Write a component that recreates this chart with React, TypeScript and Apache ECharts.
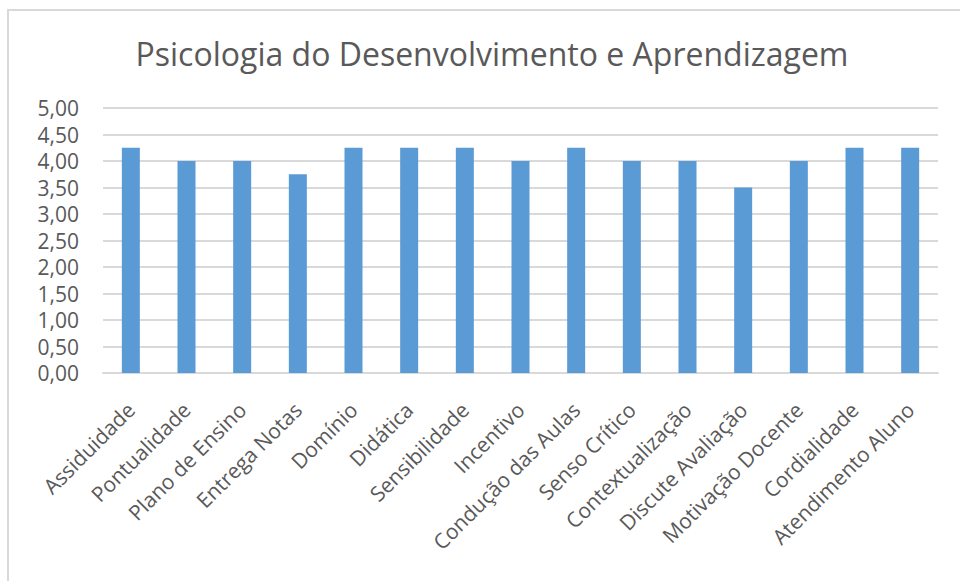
import React, { useEffect, useRef } from "react";
import * as echarts from "echarts";

const categories = [
  "Assiduidade",
  "Pontualidade",
  "Plano de Ensino",
  "Entrega Notas",
  "Domínio",
  "Didática",
  "Sensibilidade",
  "Incentivo",
  "Condução das Aulas",
  "Senso Crítico",
  "Contextualização",
  "Discute Avaliação",
  "Motivação Docente",
  "Cordialidade",
  "Atendimento Aluno",
];

const values = [4.25, 4.0, 4.0, 3.75, 4.25, 4.25, 4.25, 4.0, 4.25, 4.0, 4.0, 3.5, 4.0, 4.25, 4.25];

const chartTitle = "Psicologia do Desenvolvimento e Aprendizagem";

const FONT = "'Open Sans', 'Noto Sans', sans-serif";
const TEXT = "#595959";

export default function App() {
  const ref = useRef<HTMLDivElement>(null);
  useEffect(() => {
    if (!ref.current) return;
    const chart = echarts.init(ref.current, undefined, { renderer: "svg" });
    chart.setOption({
      animation: false,
      backgroundColor: "#ffffff",
      title: {
        text: chartTitle,
        left: 487,
        textAlign: "center",
        top: 32,
        textStyle: { fontFamily: FONT, fontSize: 32, fontWeight: "normal", color: TEXT },
      },
      graphic: [
        {
          type: "rect",
          shape: { x: 8, y: 10, width: 1000, height: 700 },
          style: { fill: "none", stroke: "#d9d9d9", lineWidth: 2 },
          silent: true,
        },
      ],
      grid: { left: 103, right: 22, top: 108, bottom: 208, containLabel: false },
      xAxis: {
        type: "category",
        data: categories,
        axisLine: { show: true, lineStyle: { color: "#d9d9d9", width: 2 } },
        axisTick: { show: false },
        axisLabel: {
          interval: 0,
          rotate: 45,
          margin: 33,
          verticalAlign: "middle",
          fontFamily: FONT,
          fontSize: 21,
          color: TEXT,
        },
      },
      yAxis: {
        type: "value",
        min: 0,
        max: 5,
        interval: 0.5,
        axisLine: { show: false },
        axisTick: { show: false },
        splitLine: { lineStyle: { color: "#d9d9d9", width: 2 } },
        axisLabel: {
          margin: 24,
          fontFamily: FONT,
          fontSize: 21,
          color: TEXT,
          formatter: (v: number) => v.toFixed(2).replace(".", ","),
        },
      },
      series: [
        {
          type: "bar",
          data: values,
          barWidth: 18,
          itemStyle: { color: "#5B9BD5" },
        },
      ],
    });
    return () => chart.dispose();
  }, []);
  return (
    <div
      ref={ref}
      style={{ position: "absolute", left: 0, top: 0, width: 960, height: 581 }}
    />
  );
}
